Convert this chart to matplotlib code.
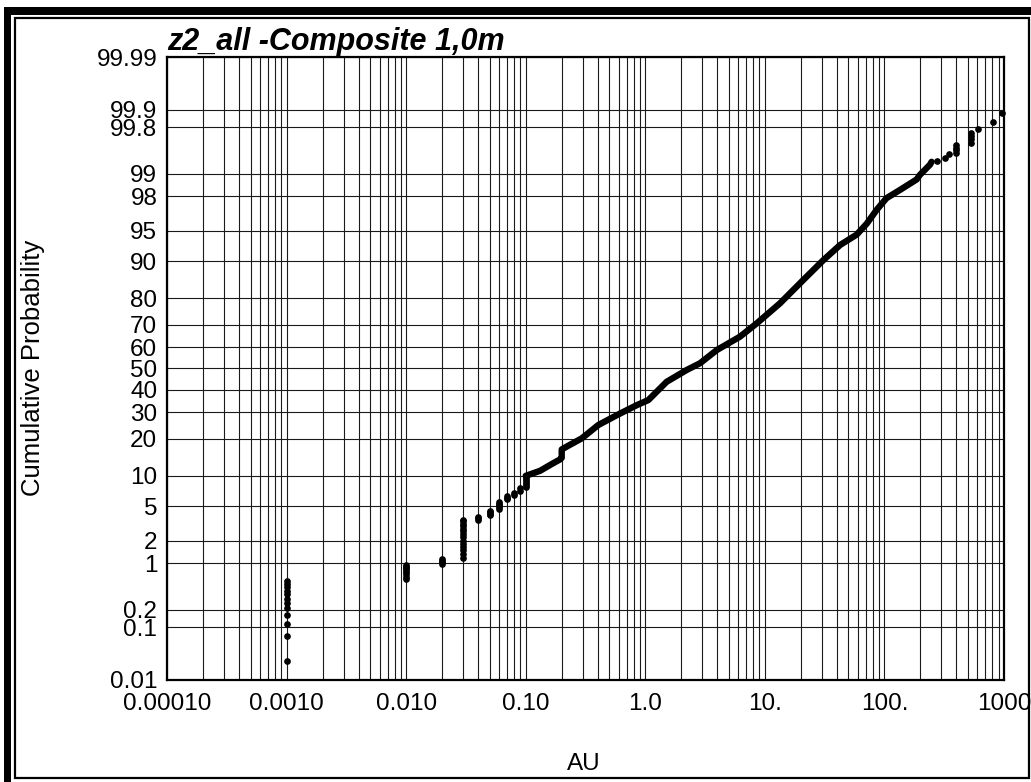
import math
import statistics
import numpy as np
import matplotlib
matplotlib.use('Agg')
import matplotlib.pyplot as plt
from matplotlib.patches import Rectangle
from matplotlib.ticker import NullLocator, LogLocator

plt.rcParams['font.family'] = ['Liberation Sans', 'DejaVu Sans']

# --- data (AU grade vs cumulative probability in %) ---
# discrete low-grade columns
au_001 = [0.001] * 12
p_001 = [0.024, 0.069, 0.116, 0.165, 0.21, 0.26, 0.30, 0.35, 0.40, 0.45, 0.50, 0.55]
au_01 = [0.01] * 8
p_01 = [0.60, 0.65, 0.70, 0.75, 0.80, 0.85, 0.90, 0.95]
au_02 = [0.02] * 4
p_02 = [0.98, 1.03, 1.08, 1.13]
au_03 = [0.03] * 14
p_03 = [1.2, 1.35, 1.5, 1.65, 1.8, 2.0, 2.2, 2.4, 2.6, 2.8, 3.0, 3.2, 3.4, 3.5]
au_04 = [0.04] * 3
p_04 = [3.55, 3.7, 3.85]
au_05 = [0.05] * 4
p_05 = [4.0, 4.15, 4.3, 4.5]
au_06 = [0.06] * 5
p_06 = [4.7, 4.9, 5.1, 5.3, 5.5]
au_07 = [0.07] * 3
p_07 = [5.9, 6.15, 6.4]
au_08 = [0.08] * 2
p_08 = [6.6, 6.9]
au_09 = [0.09] * 2
p_09 = [7.2, 7.6]
au_10 = [0.10] * 6
p_10 = [7.8, 8.2, 8.6, 9.0, 9.4, 9.8]

# continuous part of the curve
au_mid = [0.10, 0.132, 0.165, 0.194, 0.2, 0.2, 0.2, 0.234, 0.294, 0.405, 0.58, 0.85,
          1.06, 1.51, 2.22, 2.87, 3.96, 6.19, 8.55, 13.4, 21.0, 30.8, 42.7, 58.6,
          71.0, 86.3, 104, 135, 186, 198, 240, 248]
p_mid = [10.0, 11.1, 12.7, 13.9, 14.3, 15.5, 16.7, 18.1, 20.2, 25.0, 28.9, 33.1,
         35.3, 43.7, 49.3, 52.5, 58.7, 64.8, 70.5, 78.2, 85.5, 90.2, 93.0, 94.5,
         95.8, 97.1, 97.9, 98.35, 98.8, 98.96, 99.25, 99.32]

# upper tail
au_top = [277, 321, 349, 400, 400, 400, 400, 526, 526, 526, 526, 602, 815, 970]
p_top = [99.345, 99.40, 99.47, 99.50, 99.54, 99.58, 99.62, 99.65, 99.69, 99.72,
         99.75, 99.787, 99.835, 99.887]

x_ticks = [1e-4, 1e-3, 1e-2, 1e-1, 1, 10, 100, 1000]
x_labels = ['0.00010', '0.0010', '0.010', '0.10', '1.0', '10.', '100.', '1000']
y_ticks = [0.01, 0.1, 0.2, 1, 2, 5, 10, 20, 30, 40, 50, 60, 70, 80, 90, 95, 98, 99,
           99.8, 99.9, 99.99]
y_labels = ['0.01', '0.1', '0.2', '1', '2', '5', '10', '20', '30', '40', '50', '60',
            '70', '80', '90', '95', '98', '99', '99.8', '99.9', '99.99']

# probability (normal quantile) scale
nd = statistics.NormalDist()
_ppf = np.vectorize(nd.inv_cdf, otypes=[float])
_erf = np.vectorize(math.erf, otypes=[float])


def fwd(p):
    p = np.clip(np.asarray(p, dtype=float) / 100.0, 1e-9, 1 - 1e-9)
    return _ppf(p)


def inv(z):
    z = np.asarray(z, dtype=float)
    return 100.0 * 0.5 * (1 + _erf(z / math.sqrt(2)))


fig = plt.figure(figsize=(10.31, 7.82), dpi=100)
W, H = 1031, 782
ax = fig.add_axes([167 / W, 1 - 680 / H, 837 / W, 623 / H])

ax.set_xscale('log')
ax.set_yscale('function', functions=(fwd, inv))
ax.set_xlim(1e-4, 1e3)
ax.set_ylim(0.01, 99.99)

ax.set_xticks(x_ticks)
ax.set_xticklabels(x_labels)
ax.xaxis.set_minor_locator(LogLocator(base=10, subs=np.arange(2, 10)))
ax.set_yticks(y_ticks)
ax.set_yticklabels(y_labels)
ax.yaxis.set_minor_locator(NullLocator())

ax.grid(True, axis='x', which='both', color='#1a1a1a', lw=0.8)
ax.grid(True, axis='y', which='major', color='#1a1a1a', lw=0.8)
ax.set_axisbelow(True)
ax.tick_params(which='both', length=0, labelsize=17.5, colors='black')
ax.tick_params(axis='x', pad=9)
ax.tick_params(axis='y', pad=7)
for s in ax.spines.values():
    s.set_linewidth(1.6)
    s.set_color('black')

dot = dict(ls='none', marker='o', ms=3.8, color='black', mec='black', zorder=3,
           clip_on=False)
for a, p in [(au_001, p_001), (au_01, p_01), (au_02, p_02), (au_03, p_03),
             (au_04, p_04), (au_05, p_05), (au_06, p_06), (au_07, p_07),
             (au_08, p_08), (au_09, p_09), (au_10, p_10), (au_top, p_top)]:
    ax.plot(a, p, **dot)
ax.plot(au_mid, p_mid, '-', color='black', lw=4.6, solid_capstyle='round',
        solid_joinstyle='round', zorder=3)

ax.set_title('z2_all -Composite 1,0m', loc='left', fontsize=22, fontweight='bold',
             fontstyle='italic', pad=2)
fig.text(33 / W, 1 - 368 / H, 'Cumulative Probability', rotation=90, fontsize=18.5,
         ha='center', va='center')
fig.text(584 / W, 1 - 764 / H, 'AU', fontsize=17.5, ha='center', va='center')

# window frame
fig.add_artist(Rectangle((4 / W, 1 - 15 / H), 1, 8 / H, transform=fig.transFigure,
                         color='black', lw=0))
fig.add_artist(Rectangle((4 / W, 0), 7 / W, 1 - 7 / H, transform=fig.transFigure,
                         color='black', lw=0))
fig.add_artist(Rectangle((15 / W, 1 - 778 / H), 1014 / W, 760 / H,
                         transform=fig.transFigure, fill=False, ec='black', lw=1.6))

plt.savefig('out.png', dpi=100)
